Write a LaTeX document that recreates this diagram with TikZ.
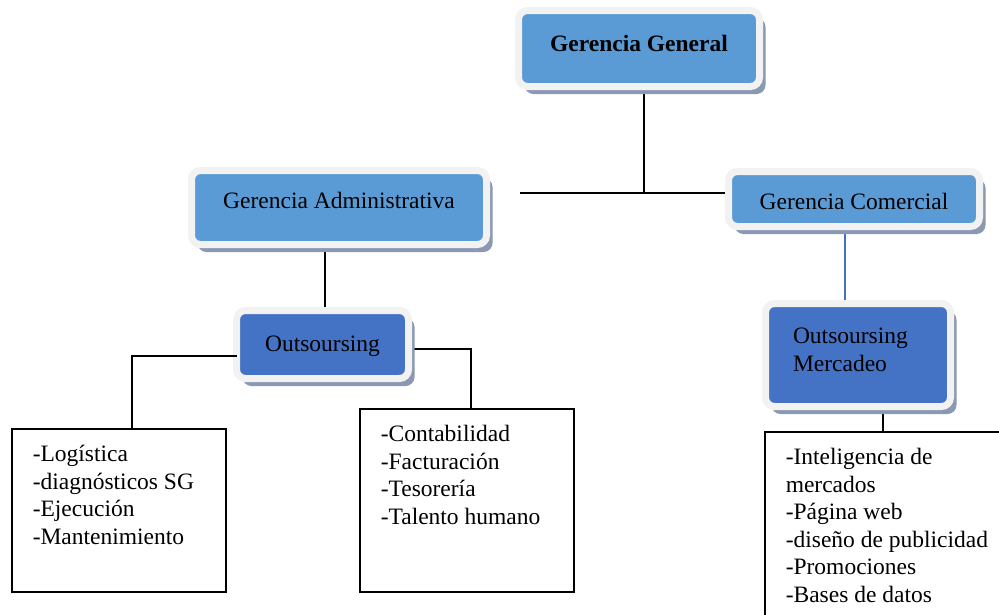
\documentclass[tikz,border=0pt]{standalone}
\usepackage{fontspec}
\setmainfont{Liberation Serif}
\usetikzlibrary{shadows,backgrounds}
\definecolor{lightblue}{RGB}{91,155,213}
\definecolor{darkblue}{RGB}{68,114,196}
\definecolor{framec}{RGB}{242,242,242}
\definecolor{shadowc}{RGB}{138,152,178}
\newcommand\bodyfont{\fontsize{23.5}{27.6}\selectfont}
\tikzset{
  orgbox/.style={draw=framec, line width=7pt, rounded corners=9pt, inner sep=0pt,
    font=\bodyfont,
    drop shadow={shadow xshift=6pt, shadow yshift=-7.5pt, fill=shadowc, opacity=1}},
  gbox/.style={orgbox, fill=lightblue},
  obox/.style={orgbox, fill=darkblue},
  listbox/.style={draw=black, line width=1.5pt, anchor=north west,
    inner xsep=21pt, inner ysep=13.5pt, font=\bodyfont},
  conn/.style={draw=black, line width=1.6pt},
  bconn/.style={draw=darkblue, line width=1.3pt},
}
\begin{document}
\begin{tikzpicture}[x=1pt,y=-1pt]
\useasboundingbox (0,0) rectangle (999,614);
\clip (0,0) rectangle (999,614);

% top level boxes
\node[gbox, minimum width=241pt, minimum height=76pt, text height=16pt, text depth=11pt,
      font=\bodyfont\bfseries] (gg) at (639,48.5) {Gerencia General};
\node[gbox, minimum width=295pt, minimum height=74pt, text height=16pt, text depth=13.5pt]
      (ga) at (339,207.5) {Gerencia Administrativa};
\node[gbox, minimum width=251pt, minimum height=55pt, text height=21pt, text depth=0.5pt]
      (gc) at (854,199) {Gerencia Comercial};
\node[obox, minimum width=172pt, minimum height=68pt, text height=16pt, text depth=2.5pt]
      (out) at (322.5,344.5) {Outsoursing};
\node[obox, minimum width=185pt, minimum height=103pt, text width=130pt, align=left]
      (om) at (858,355) {Outsoursing\\Mercadeo\rule[-10pt]{0pt}{10pt}};

% list boxes
\node[listbox] (logbox) at (11,428)
  {\begin{minipage}[t][136pt][t]{172pt}\bodyfont\strut -Logística\\-diagnósticos SG\\-Ejecución\\-Mantenimiento\end{minipage}};
\node[listbox] (contbox) at (359,408)
  {\begin{minipage}[t][156pt][t]{172pt}\bodyfont\strut -Contabilidad\\-Facturación\\-Tesorería\\-Talento humano\end{minipage}};
\node[listbox] (mercbox) at (764,431)
  {\begin{minipage}[t][180pt][t]{220pt}\bodyfont\strut -Inteligencia de\\mercados\\-Página web\\-diseño de publicidad\\-Promociones\\-Bases de datos\end{minipage}};

% connectors
\coordinate (hub) at (644,193);
\coordinate (hl) at (520,193);
\coordinate (gax) at (325,0);
\coordinate (ol) at (132,356);
\coordinate (orr) at (471,349);
\coordinate (cbx) at (845,0);
\coordinate (cmx) at (883,0);
\begin{scope}[on background layer]
  \fill[white] (0,0) rectangle (999,614);
  \draw[conn] (gg.south -| hub) -- (hub);
  \draw[conn] (hl) -- (hl -| gc.west);
  \draw[conn] (ga.south -| gax) -- (out.north -| gax);
  \draw[conn] (out.east |- orr) -- (orr) -- (orr |- contbox.north);
  \draw[bconn] (gc.south -| cbx) -- (om.north -| cbx);
  \draw[conn] (om.south -| cmx) -- (mercbox.north -| cmx);
\end{scope}
\draw[conn] ([xshift=4pt]out.west |- ol) -- (ol) -- (ol |- logbox.north);
\end{tikzpicture}
\end{document}
